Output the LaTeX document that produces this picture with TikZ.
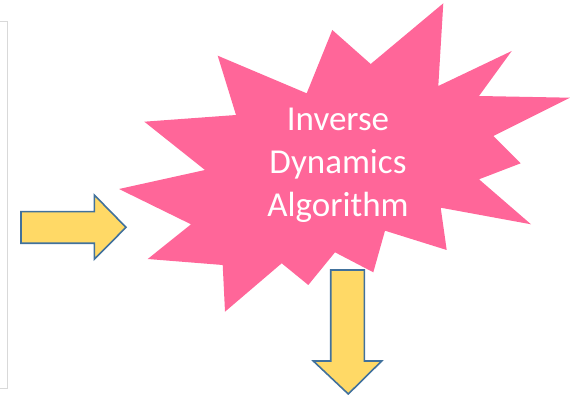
\documentclass[tikz,border=0pt]{standalone}
\usepackage{fontspec}
\setmainfont{Carlito}
\definecolor{burst}{HTML}{FF6699}
\definecolor{arrowfill}{HTML}{FFD966}
\definecolor{arrowline}{HTML}{41719C}
\definecolor{framegray}{HTML}{D9D9D9}
\tikzset{
  blockarrow/.style={fill=arrowfill, draw=arrowline, line width=1.6pt, line join=miter},
  burstshape/.style={fill=burst, draw=none},
  burstlabel/.style={text=white, align=center, inner sep=0pt, font=\fontsize{35}{43}\selectfont},
}
\begin{document}
\begin{tikzpicture}[x=1pt,y=-1pt]
\useasboundingbox (0,0) rectangle (570,395);
% edge of the neighbouring panel
\draw[framegray, line width=1pt] (0,21.7) -- (7.7,21.7) -- (7.7,388) -- (0,388);
% explosion shape
\path[burstshape] (443.3,3.3) -- (438.3,86) -- (511.7,51) -- (479,96) -- (570,97.7)
  -- (493.3,136) -- (520.7,163.3) -- (479,179.3) -- (531,224.3) -- (440.7,207.7)
  -- (446.7,250) -- (385,230.7) -- (373.3,272.3) -- (335,252.3) -- (308.3,285)
  -- (281.7,263.3) -- (225,311.7) -- (222.7,265) -- (147.7,259) -- (191,224.3)
  -- (119,189) -- (205,170) -- (144.3,121.7) -- (236,115) -- (217.7,55.7)
  -- (306.7,93.3) -- (332.3,30) -- (370.7,64) -- cycle;
\node[burstlabel, anchor=base] (algo) at (338,217) {Inverse\\Dynamics\\Algorithm};
% input arrow
\draw[blockarrow] (21,211.7) -- (94.3,211.7) -- (94.3,195) -- (126,227.3)
  -- (94.3,259.3) -- (94.3,243.3) -- (21,243.3) -- cycle;
% output arrow
\draw[blockarrow] (330.7,270) -- (364.3,270) -- (364.3,361) -- (381.7,361)
  -- (348.3,394) -- (313.3,361) -- (330.7,361) -- cycle;
\end{tikzpicture}
\end{document}
